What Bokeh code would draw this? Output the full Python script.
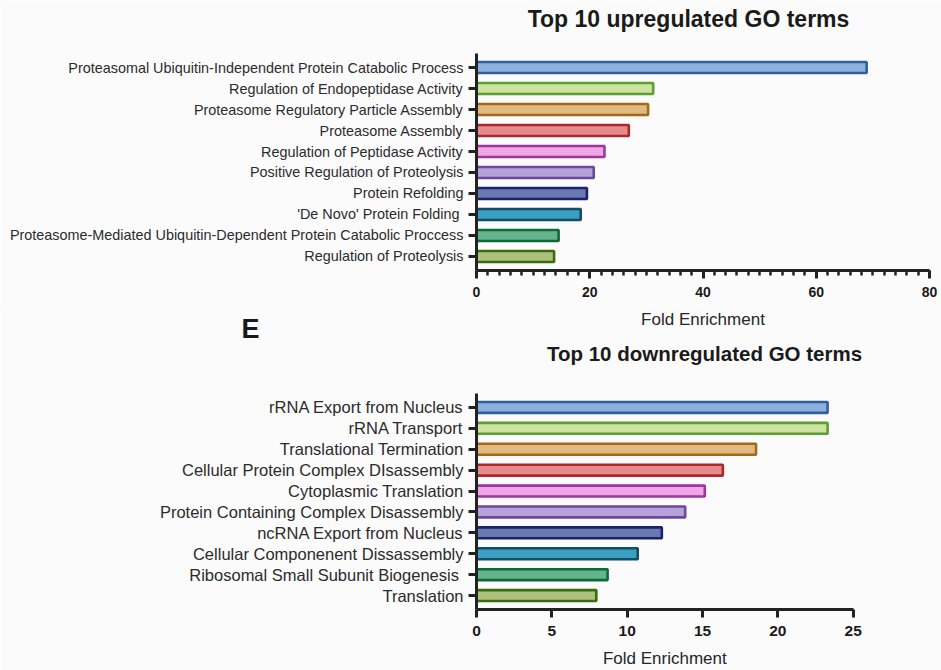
from bokeh.plotting import figure
from bokeh.layouts import column
from bokeh.models import Range1d, FixedTicker, Label, ColumnDataSource
from bokeh.embed import file_html
from bokeh.resources import INLINE

# GO term enrichment data (fold enrichment per term)
up_terms = [
    "Proteasomal Ubiquitin-Independent Protein Catabolic Process",
    "Regulation of Endopeptidase Activity",
    "Proteasome Regulatory Particle Assembly",
    "Proteasome Assembly",
    "Regulation of Peptidase Activity",
    "Positive Regulation of Proteolysis",
    "Protein Refolding",
    "'De Novo' Protein Folding\u00a0",
    "Proteasome-Mediated Ubiquitin-Dependent Protein Catabolic Proccess",
    "Regulation of Proteolysis",
]
up_fold = [68.9, 31.2, 30.3, 26.9, 22.6, 20.7, 19.5, 18.4, 14.5, 13.7]

down_terms = [
    "rRNA Export from Nucleus",
    "rRNA Transport",
    "Translational Termination",
    "Cellular Protein Complex DIsassembly",
    "Cytoplasmic Translation",
    "Protein Containing Complex Disassembly",
    "ncRNA Export from Nucleus",
    "Cellular Componenent Dissassembly",
    "Ribosomal Small Subunit Biogenesis\u00a0",
    "Translation",
]
down_fold = [23.3, 23.3, 18.55, 16.35, 15.15, 13.85, 12.3, 10.7, 8.7, 7.95]

up_xticks = [0, 20, 40, 60, 80]
up_xminor = list(range(0, 81, 2))
down_xticks = [0, 5, 10, 15, 20, 25]

fill_colors = ["#8eb0dc", "#cce4a0", "#e3b983", "#e68a8c", "#eea6e6",
               "#b8a0d8", "#6a79b0", "#3a9fc0", "#64b38c", "#aec07e"]
line_colors = ["#2e5f9e", "#5f9e36", "#a06a17", "#a82a2e", "#a0359e",
               "#6a4a9e", "#1a216e", "#134e68", "#0d6b38", "#3a6b0c"]

FONT = "Liberation Sans"
BG = "#fbfbfb"
INK = "#222222"


def text_label(x, y, text, size, bold=False, color="#1a1a1a"):
    return Label(x=x, y=y, text=text, text_align="center",
                 text_baseline="middle", text_font=FONT,
                 text_font_style="bold" if bold else "normal",
                 text_font_size=size, text_color=color)


def make_panel(terms, values, x_end, xticks, xminor, axis_max, height,
               borders, ylab_size, xlab_size):
    left, right, top, bottom = borders
    p = figure(width=941, height=height, output_backend="svg",
               toolbar_location=None,
               x_range=Range1d(0, x_end), y_range=Range1d(9.667, -0.667),
               min_border_left=left, min_border_right=right,
               min_border_top=top, min_border_bottom=bottom)
    p.background_fill_color = BG
    p.border_fill_color = BG
    p.outline_line_color = None
    p.grid.visible = False

    src = ColumnDataSource(dict(rank=list(range(len(terms))), fold=values,
                                fill=fill_colors, line=line_colors))
    p.hbar(y="rank", left=0, right="fold", height=0.52, source=src,
           fill_color="fill", line_color="line", line_width=2.6)

    xa = p.xaxis[0]
    xa.bounds = (0, axis_max)
    xa.ticker = FixedTicker(ticks=xticks, minor_ticks=xminor)
    xa.axis_line_width = 3
    xa.axis_line_color = INK
    xa.major_tick_line_width = 3
    xa.major_tick_line_color = INK
    xa.minor_tick_line_width = 2.5
    xa.minor_tick_line_color = INK
    xa.major_tick_in = 0
    xa.major_tick_out = 8
    xa.minor_tick_in = 0
    xa.minor_tick_out = 5
    xa.major_label_text_font = FONT
    xa.major_label_text_font_style = "bold"
    xa.major_label_text_font_size = xlab_size
    xa.major_label_text_color = "#1a1a1a"
    xa.major_label_standoff = 8

    ya = p.yaxis[0]
    ya.ticker = FixedTicker(ticks=list(range(len(terms))), minor_ticks=[])
    ya.major_label_overrides = {i: t for i, t in enumerate(terms)}
    ya.axis_line_width = 3
    ya.axis_line_color = INK
    ya.major_tick_line_width = 3
    ya.major_tick_line_color = INK
    ya.major_tick_in = 0
    ya.major_tick_out = 8
    ya.minor_tick_out = 0
    ya.major_label_text_font = FONT
    ya.major_label_text_font_size = ylab_size
    ya.major_label_text_color = "#2b2b2b"
    ya.major_label_standoff = 5
    return p


# upregulated terms: axis 0-80
top = make_panel(up_terms, up_fold, 80, up_xticks, up_xminor, 80, 306,
                 (476, 12, 53, 36), "14.4px", "14px")
top.add_layout(text_label(37.44, -2.333, "Top 10 upregulated GO terms",
                          "23px", bold=True), "above")

# downregulated terms: axis 0-25, frame shared with the panel above
down_end = 25 * 453 / 376.7
bottom = make_panel(down_terms, down_fold, down_end, down_xticks, [], 25, 364,
                    (476, 12, 87, 61), "16.5px", "15.5px")
# axis title of the upper chart and the panel letter sit just above this chart
bottom.add_layout(text_label(15.03, -4.19, "Fold Enrichment", "17px",
                             color="#262626"), "left")
bottom.add_layout(text_label(-15.0, -3.76, "E", "27px", bold=True), "left")
bottom.add_layout(text_label(15.13, -2.58, "Top 10 downregulated GO terms",
                             "20.5px", bold=True), "above")
bottom.add_layout(text_label(12.5, 12.0, "Fold Enrichment", "17px",
                             color="#262626"), "below")

layout = column(top, bottom, spacing=0)
open("out.html", "w").write(file_html(layout, INLINE))
